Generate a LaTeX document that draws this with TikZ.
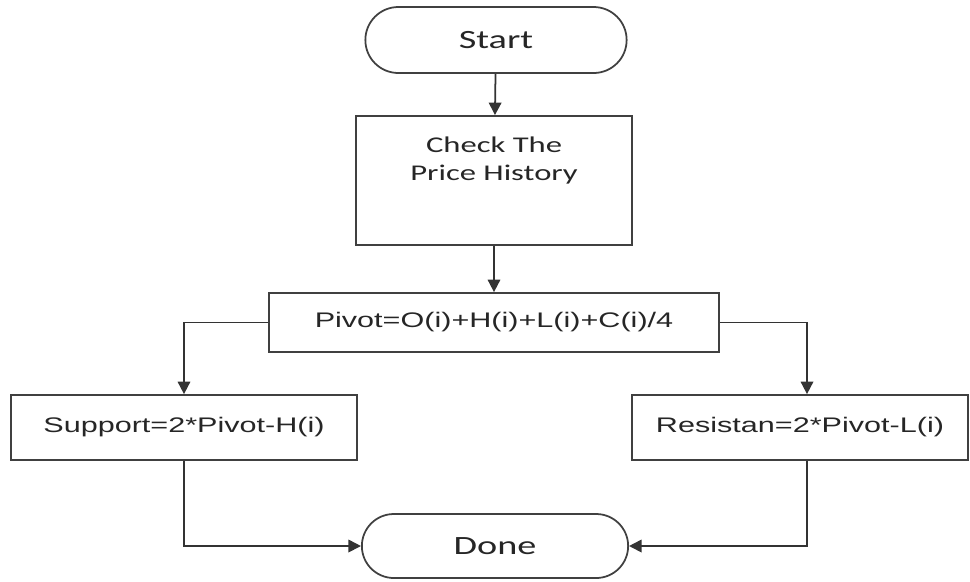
\documentclass[tikz,border=0pt]{standalone}
\usepackage{fontspec}
\usetikzlibrary{arrows.meta,shapes.misc}
\newfontfamily\calfont{Carlito}[FakeStretch=1.45]
\newfontfamily\arfont{Liberation Sans}[FakeStretch=1.45]

\begin{document}
\begin{tikzpicture}[>={Triangle[length=0.25cm,width=0.25cm]},
      term/.style={draw=black!75,line width=1pt,rounded rectangle,text=black!85,font=\calfont\fontsize{15}{18}\selectfont},
      proc/.style={draw=black!75,line width=1pt,rectangle,text=black!85,font=\arfont\fontsize{12}{15}\selectfont},
      flow/.style={->,draw=black!80,line width=1pt}]
      \useasboundingbox (0,0) rectangle (19.4,-11.62);
      \node[term,minimum width=5.46cm,minimum height=1.32cm] (start) at (9.92,-0.80) {Start};
      \node[proc,minimum width=5.52cm,minimum height=2.58cm,
            label={[name=checktext,align=center,anchor=north,yshift=-0.31cm,text=black!85,
                    font=\calfont\fontsize{12.8}{16}\selectfont]north:{Check The\\Price History}}] (check) at (9.88,-3.61) {};
      \node[proc,minimum width=9.0cm,minimum height=1.18cm] (pivot) at (9.88,-6.45) {Pivot=O(i)+H(i)+L(i)+C(i)/4};
      \node[proc,minimum width=6.92cm,minimum height=1.3cm] (sup) at (3.68,-8.55) {Support=2*Pivot-H(i)};
      \node[proc,minimum width=6.72cm,minimum height=1.3cm] (res) at (16.00,-8.55) {Resistan=2*Pivot-L(i)};
      \node[term,minimum width=5.56cm,minimum height=1.28cm] (done) at (9.90,-10.92) {Done};
      \coordinate (rx) at (16.14,-6.45);
      \draw[flow] (start)--(check);
      \draw[flow] (check)--(pivot);
      \draw[flow] (pivot.west) -| (sup.north);
      \draw[flow] (pivot.east) -- (rx) -- (rx |- res.north);
      \draw[flow] (sup.south) |- (done.west);
      \draw[flow] (rx |- res.south) |- (done.east);
    \end{tikzpicture}
\end{document}
